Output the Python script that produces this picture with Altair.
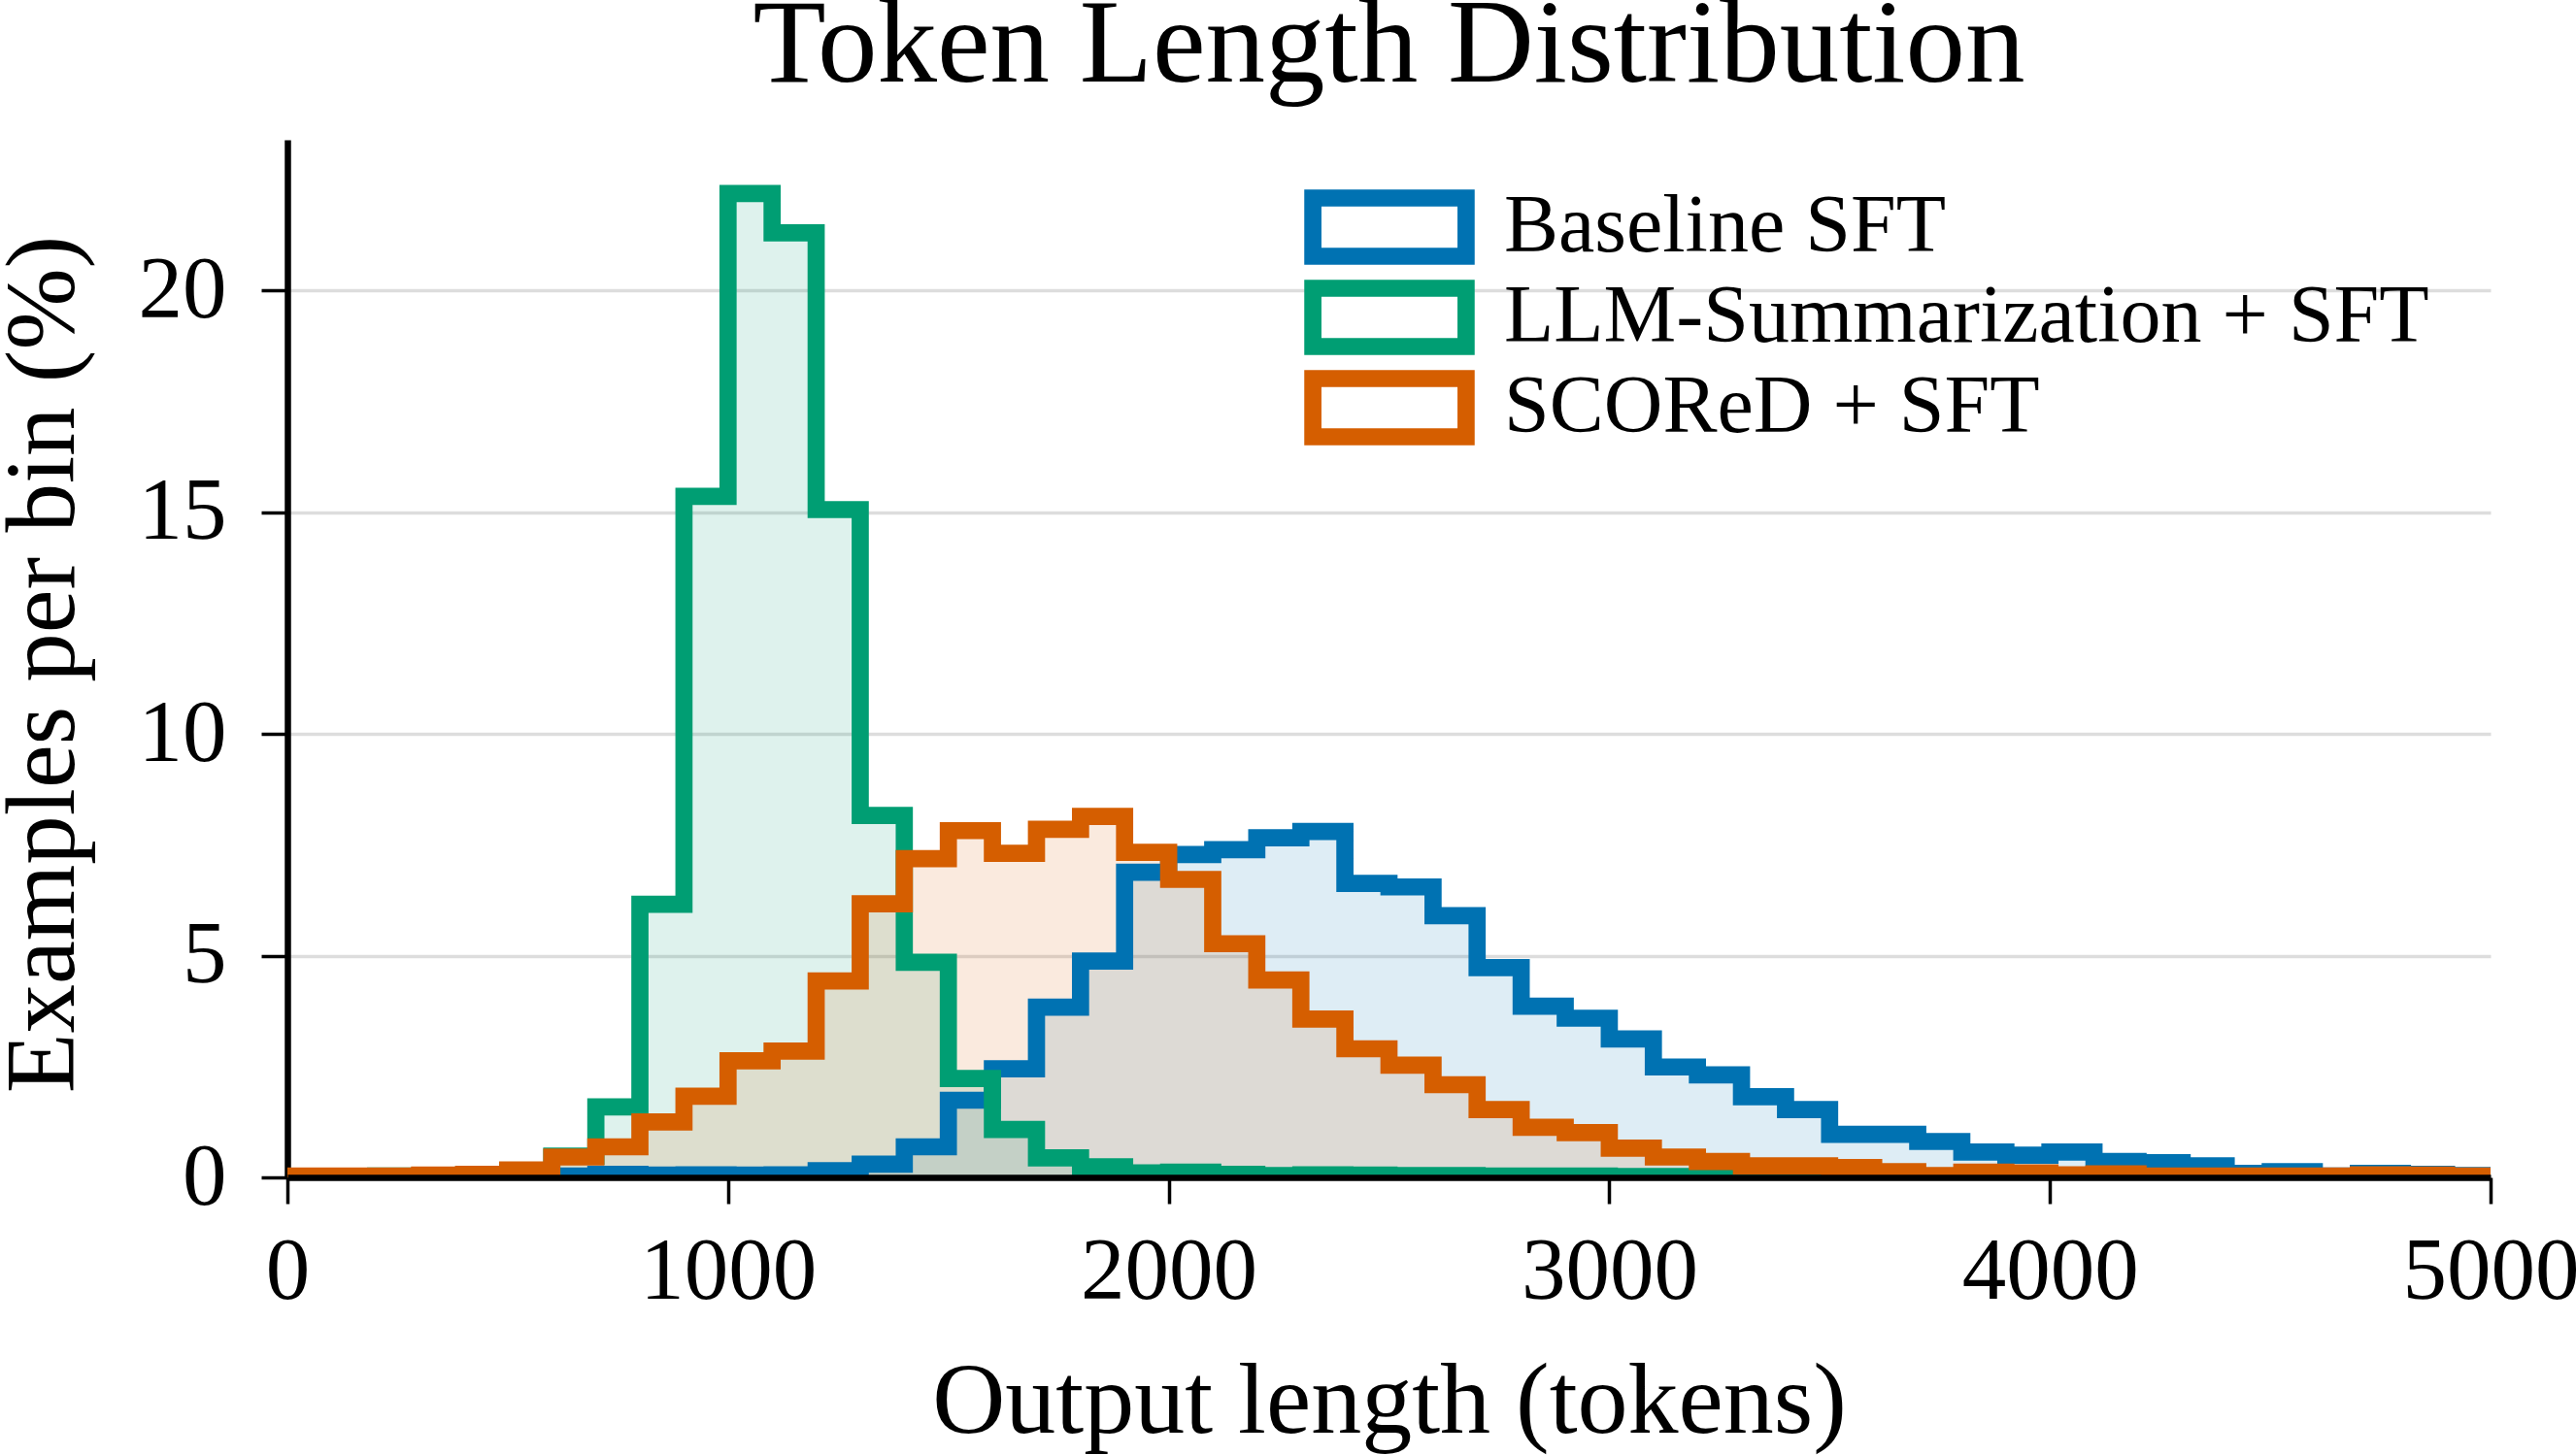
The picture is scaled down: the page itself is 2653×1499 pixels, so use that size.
import altair as alt
import pandas as pd

# ---- data ----
BIN_WIDTH = 100
bin_starts = list(range(0, 5000, BIN_WIDTH))

series_names = ["Baseline SFT", "LLM-Summarization + SFT", "SCOReD + SFT"]
series_colors = ["#0072B2", "#009E73", "#D55E00"]

baseline_sft = [
    0.0, 0.0, 0.0, 0.0, 0.0, 0.01, 0.03, 0.07, 0.05, 0.06,
    0.05, 0.06, 0.15, 0.30, 0.69, 1.74, 2.45, 3.84, 4.88, 6.88,
    7.28, 7.39, 7.66, 7.80, 6.63, 6.55, 5.90, 4.73, 3.86, 3.59,
    3.12, 2.49, 2.31, 1.82, 1.53, 0.97, 0.97, 0.81, 0.57, 0.50,
    0.57, 0.36, 0.33, 0.26, 0.09, 0.13, 0.03, 0.09, 0.07, 0.04,
]
llm_summ_sft = [
    0.0, 0.01, 0.03, 0.03, 0.05, 0.12, 0.48, 1.59, 6.16, 15.36,
    22.19, 21.30, 15.06, 8.16, 4.85, 2.23, 1.08, 0.44, 0.24, 0.10,
    0.12, 0.07, 0.04, 0.06, 0.05, 0.04, 0.04, 0.03, 0.03, 0.03,
    0.02, 0.02, 0.02, 0.01, 0.01, 0.01, 0.0, 0.0, 0.0, 0.0,
    0.0, 0.0, 0.0, 0.0, 0.0, 0.0, 0.0, 0.0, 0.0, 0.0,
]
scored_sft = [
    0.03, 0.03, 0.03, 0.05, 0.07, 0.17, 0.46, 0.69, 1.25, 1.83,
    2.63, 2.85, 4.43, 6.17, 7.19, 7.82, 7.31, 7.85, 8.14, 7.33,
    6.72, 5.27, 4.45, 3.57, 2.90, 2.53, 2.09, 1.53, 1.13, 1.01,
    0.66, 0.46, 0.36, 0.26, 0.26, 0.22, 0.13, 0.04, 0.12, 0.10,
    0.06, 0.08, 0.03, 0.03, 0.03, 0.03, 0.03, 0.06, 0.05, 0.03,
]

x_ticks = [0, 1000, 2000, 3000, 4000, 5000]
y_ticks = [0, 5, 10, 15, 20]
X_MAX = 5000
Y_MAX = 23.4

rows = []
for name, vals in zip(series_names, [baseline_sft, llm_summ_sft, scored_sft]):
    for s, v in zip(bin_starts, vals):
        rows.append({"tokens": s, "pct": v, "series": name})
    rows.append({"tokens": X_MAX, "pct": 0.0, "series": name})
df = pd.DataFrame(rows)

FONT = "Liberation Serif"

x_enc = alt.X(
    "tokens:Q",
    title="Output length (tokens)",
    scale=alt.Scale(domain=[0, X_MAX], nice=False, zero=True),
    axis=alt.Axis(
        values=x_ticks, format="d", grid=False,
        labelFont=FONT, labelFontSize=91, labelColor="black",
        labelPadding=25, labelFlush=False, labelOverlap=False,
        labelLimit=1000,
        tickSize=27, tickWidth=3.5, tickColor="black",
        domainColor="black", domainWidth=6.5,
        titleFont=FONT, titleFontSize=104, titleFontWeight="normal",
        titleColor="black", titleBaseline="alphabetic", titleY=262,
        titleLimit=3000,
        zindex=1,
    ),
)
y_enc = alt.Y(
    "pct:Q",
    stack=None,
    title="Examples per bin (%)",
    scale=alt.Scale(domain=[0, Y_MAX], nice=False),
    axis=alt.Axis(
        values=y_ticks, format="d", grid=True,
        gridColor="#dddddd", gridWidth=3.5,
        labelFont=FONT, labelFontSize=91, labelColor="black",
        labelPadding=36, labelFlush=False, labelOverlap=False,
        labelLimit=1000,
        tickSize=27, tickWidth=3.5, tickColor="black",
        domainColor="black", domainWidth=6.5,
        titleFont=FONT, titleFontSize=101, titleFontWeight="normal",
        titleColor="black", titleBaseline="alphabetic",
        titleAngle=270, titleX=-221, titleY=540, titleLimit=3000,
    ),
)

color_enc = alt.Color(
    "series:N",
    scale=alt.Scale(domain=series_names, range=series_colors),
    legend=alt.Legend(
        title=None,
        orient="none",
        legendX=1043,
        legendY=50,
        symbolType="M-2.63,-1H2.63V1H-2.63Z",
        symbolSize=3600,
        symbolStrokeWidth=17.7,
        symbolOffset=50,
        labelFont=FONT,
        labelFontSize=84,
        labelColor="black",
        labelLimit=3000,
        labelOffset=76,
        clipHeight=80,
        rowPadding=9,
    ),
)

base = alt.Chart(df)
areas = [
    base.transform_filter(alt.datum.series == n)
    .mark_area(interpolate="step-after", fill=c, fillOpacity=0.13, clip=True)
    .encode(x=x_enc, y=y_enc)
    for n, c in zip(series_names, series_colors)
]
lines = [
    base.transform_filter(alt.datum.series == n)
    .mark_line(interpolate="step-after", strokeWidth=17.7,
               strokeJoin="miter", strokeCap="butt", clip=True)
    .encode(x=x_enc, y=y_enc, color=color_enc)
    for n in series_names
]

chart = (
    alt.layer(*areas, *lines)
    .properties(
        width=2269,
        height=1069,
        autosize=alt.AutoSizeParams(type="none"),
        padding={"left": 296, "top": 144, "right": 88, "bottom": 286},
        background="white",
        title=alt.TitleParams(
            "Token Length Distribution",
            font=FONT, fontSize=123, fontWeight="normal", color="black",
            anchor="middle", frame="group", offset=34,
        ),
    )
    .configure_view(stroke=None)
)

chart.save("out.html", embed_options={"renderer": "svg", "actions": False})
